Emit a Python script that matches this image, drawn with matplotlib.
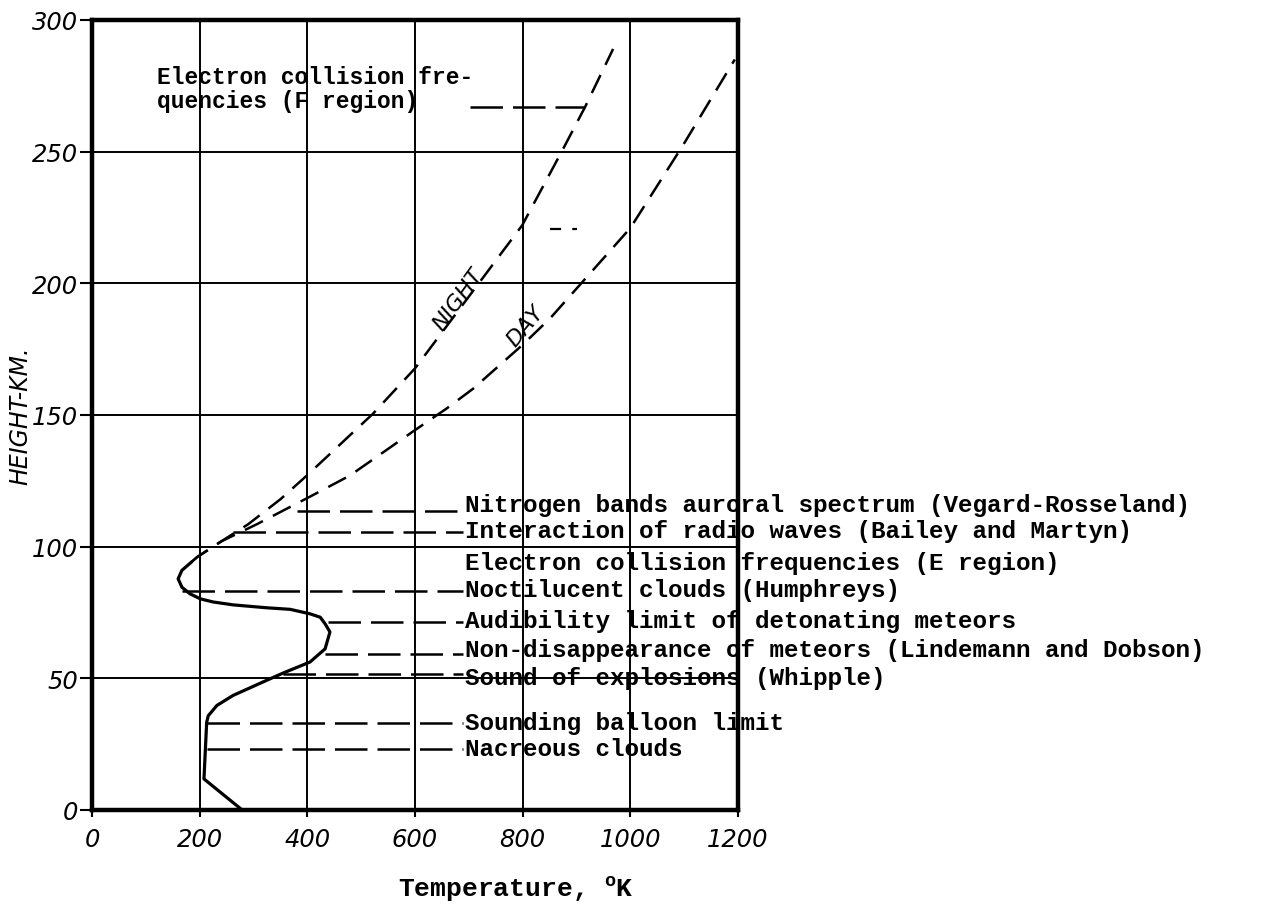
import matplotlib
matplotlib.use("Agg")
import matplotlib.pyplot as plt
import numpy as np

# ---------------- data ----------------
# solid temperature profile (lower atmosphere)
profile_height = [0, 11.8, 33.3, 35.8, 39.7, 43.5, 49.2, 52, 56.2, 61.2, 67.6, 70.7, 73.2, 74.5,
                  76.2, 76.8, 77.9, 79, 80.2, 82.1, 84.6, 87.8, 91, 94.2]
profile_temp = [279, 208, 213, 216, 232, 262, 324, 355, 405, 433, 442, 433, 424, 405,
                368, 324, 262, 225, 201, 182, 167, 160, 167, 185]

# dashed upper-atmosphere branches
night_height = [94.2, 96, 102, 108.5, 118, 127, 150.5, 167.7, 200.7, 222, 251, 267, 289]
night_temp = [185, 195, 240, 290, 350, 399, 522, 600, 721, 799, 875, 916, 968]
day_height = [94.2, 96, 102, 108.5, 119, 127, 143.7, 152.5, 160, 176.5, 186.7, 221, 252.5, 285]
day_temp = [185, 195, 240, 306, 405, 479, 596, 659, 708, 799, 851, 1000, 1098, 1194]

# observation labels with heights and the temperature where the leader starts
event_labels = [
    "Nitrogen bands auroral spectrum (Vegard-Rosseland)",
    "Interaction of radio waves (Bailey and Martyn)",
    "Electron collision frequencies (E region)",
    "Noctilucent clouds (Humphreys)",
    "Audibility limit of detonating meteors",
    "Non-disappearance of meteors (Lindemann and Dobson)",
    "Sound of explosions (Whipple)",
    "Sounding balloon limit",
    "Nacreous clouds",
]
event_height = [113.7, 105.7, 93.5, 83.3, 71.5, 59.3, 51.7, 33.0, 23.2]
event_leader_start = [381, 262, None, 167, 439, 433, 355, 213, 213]

f_region_label = "Electron collision fre-\nquencies (F region)"
f_region_height = 267
f_region_leader = [702, 916]
stray_mark_temp = [851, 901]
stray_mark_height = 220.5

x_ticks = [0, 200, 400, 600, 800, 1000, 1200]
x_tick_labels = ["0", "200", "400", "600", "800", "1000", "1200"]
y_ticks = [0, 50, 100, 150, 200, 250, 300]
y_tick_labels = ["0", "50", "100", "150", "200", "250", "300"]

# ---------------- style ----------------
plt.rcParams['mathtext.fontset'] = 'custom'
plt.rcParams['mathtext.rm'] = 'Liberation Mono:bold'
mono = dict(family='Liberation Mono', weight='bold')
tick_font = dict(family='DejaVu Sans', style='oblique', size=17.5)

fig = plt.figure(figsize=(12.64, 9.12), dpi=100)
ax = fig.add_axes([92 / 1264, 101 / 912, 646 / 1264, 790 / 912])
ax.set_xlim(0, 1200)
ax.set_ylim(0, 300)

ax.set_xticks(x_ticks)
ax.set_xticklabels(x_tick_labels, fontdict=tick_font)
ax.set_yticks(y_ticks)
ax.set_yticklabels(y_tick_labels, fontdict=tick_font)
ax.tick_params(axis='y', direction='out', length=9, width=1.5, pad=1)
ax.tick_params(axis='x', direction='out', length=5, width=1.5, pad=7)
for lbl in ax.get_xticklabels():
    lbl.set_x(lbl.get_position()[0])
ax.grid(True, color='black', linewidth=1.4)
ax.set_axisbelow(True)
for s in ax.spines.values():
    s.set_linewidth(3.2)

# curves
ax.plot(profile_temp, profile_height, color='black', lw=2.3, solid_capstyle='round',
        solid_joinstyle='round')
ax.plot(night_temp, night_height, color='black', lw=1.8, dashes=(8, 4.5))
ax.plot(day_temp, day_height, color='black', lw=1.8, dashes=(8, 4.5))

# event leaders and labels (small vertical nudges keep the typed lines apart)
text_T = 693
nudge = {0: 2.4, 1: 0.5, 5: 1.5, 6: -1.3}
for i, (lab, h, t0) in enumerate(zip(event_labels, event_height, event_leader_start)):
    if t0 is not None:
        ax.plot([t0, text_T - 3], [h, h], color='black', lw=1.8, dashes=(13, 4), clip_on=False)
    ax.text(text_T, h + nudge.get(i, 0.3), lab, fontsize=17.5, va='center', ha='left',
            clip_on=False, **mono)

# F region label
ax.plot(f_region_leader, [f_region_height, f_region_height], color='black', lw=1.8, dashes=(13, 4))
ax.text(121, 274, f_region_label, fontsize=16.5, va='center', ha='left', linespacing=1.05, **mono)
ax.plot(stray_mark_temp, [stray_mark_height] * 2, color='black', lw=1.6, dashes=(5, 5))

# curve names
ax.text(680, 194, "NIGHT", rotation=54, fontsize=16, style='oblique', ha='center', va='center',
        family='DejaVu Sans', rotation_mode='anchor')
ax.text(805, 184, "DAY", rotation=50, fontsize=16, style='oblique', ha='center', va='center',
        family='DejaVu Sans', rotation_mode='anchor')

# axis labels
fig.text(20 / 1264, 1 - 416 / 912, "HEIGHT-KM.", rotation=90, fontsize=17, style='oblique',
         family='DejaVu Sans', ha='center', va='center')
fig.text(516 / 1264, 1 - 889 / 912, r"Temperature, $^{\rm o}$K", fontsize=19, ha='center',
         va='center', **mono)

fig.savefig("out.png", dpi=100)
